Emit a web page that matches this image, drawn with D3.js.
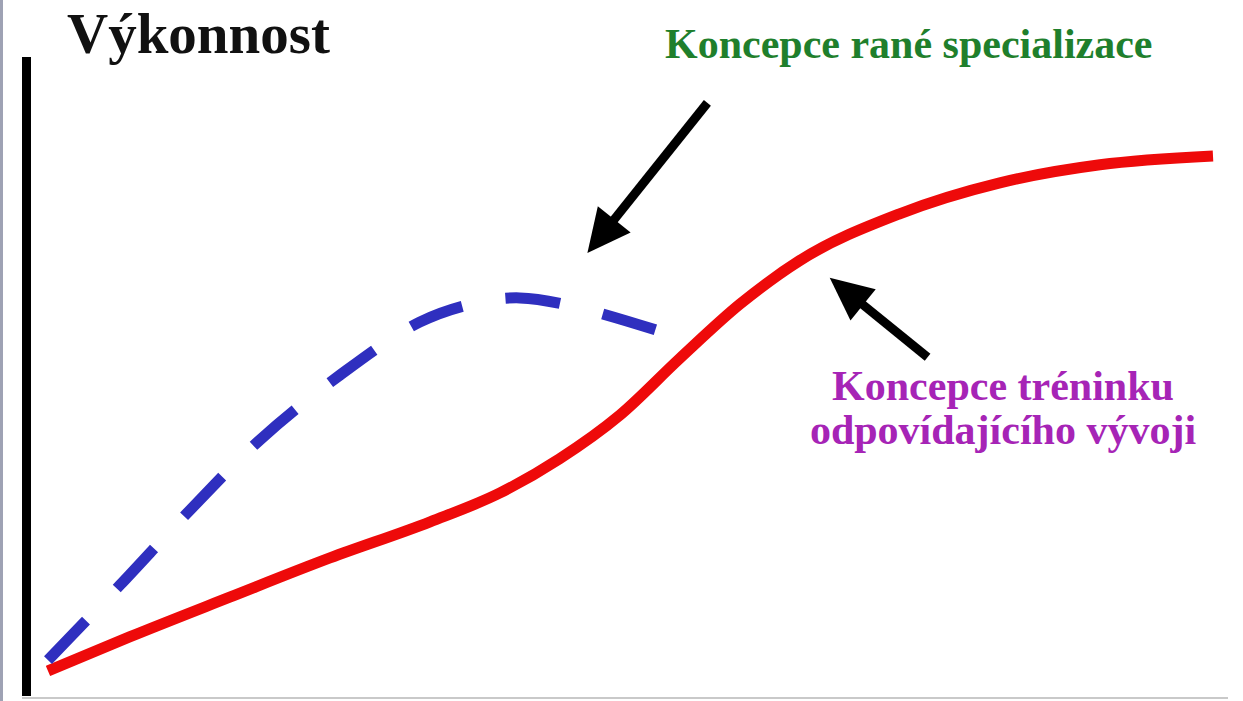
<!DOCTYPE html>
<html lang="cs">
  <head>
    <meta charset="UTF-8" />
    <script src="https://d3js.org/d3.v7.min.js"></script>
    <title>Výkonnost – koncepce tréninku</title>
    <style type="text/css">
      html, body { margin: 0; padding: 0; background: #fff; }
      svg { display: block; }
    </style>
  </head>
  <body>
    <svg width="1243" height="701"></svg>
  </body>
  <script type="text/javascript">
    // data (x = vek / cas 0-100, y = vykonnost 0-100)
    const redX = [0, 7.0, 15.6, 24.2, 32.8, 38.8, 43.9, 49.1, 54.2, 59.4, 64.5, 73.1, 81.7, 90.3, 100];
    const redY = [0.2, 6.8, 14.5, 22.1, 29.1, 34.7, 41.3, 49.8, 60.7, 71.3, 79.7, 88.8, 94.8, 98.3, 100];
    const blueX = [0, 6.2, 12.2, 18.2, 25.1, 31.9, 36.7, 40.5, 45.4, 53.0];
    const blueY = [2.3, 16.9, 31.4, 45.0, 57.6, 67.8, 71.5, 72.5, 70.7, 65.7];

    // arrows: [tailX, tailY, tipX, tipY] in data units
    const arrowEarly = [56.6, 110.3, 46.3, 81.2];
    const arrowDev = [75.5, 61.0, 67.1, 76.4];

    const titleText = 'Výkonnost';
    const earlyLabel = 'Koncepce rané specializace';
    const devLabel = ['Koncepce tréninku', 'odpovídajícího vývoji'];

    //---

    const svg = d3.select('svg');
    const width = +svg.attr('width');
    const height = +svg.attr('height');

    svg.append('rect').attr('width', width).attr('height', height).attr('fill', '#fff');

    // left grey edge + bottom line (frame of the original slide)
    svg.append('rect').attr('x', 0).attr('y', 0).attr('width', 3).attr('height', height).attr('fill', '#9ea2b4');
    svg.append('line')
      .attr('x1', 22).attr('x2', 1228)
      .attr('y1', 698).attr('y2', 698)
      .attr('stroke', '#c9c9c9').attr('stroke-width', 2);

    const xScale = d3.scaleLinear().domain([0, 100]).range([48, 1213]);
    const yScale = d3.scaleLinear().domain([0, 100]).range([672, 156]);

    // y axis (plain black bar)
    svg.append('line')
      .attr('x1', 26.5).attr('x2', 26.5)
      .attr('y1', 57).attr('y2', 696)
      .attr('stroke', '#000').attr('stroke-width', 9);

    const line = d3.line()
      .x((d) => xScale(d[0]))
      .y((d) => yScale(d[1]))
      .curve(d3.curveMonotoneX);

    const redData = redX.map((x, i) => [x, redY[i]]);
    const blueData = blueX.map((x, i) => [x, blueY[i]]);

    svg.append('path')
      .datum(redData)
      .attr('d', line)
      .attr('fill', 'none')
      .attr('stroke', '#ee0a0a')
      .attr('stroke-width', 11);

    svg.append('path')
      .datum(blueData)
      .attr('d', line.curve(d3.curveCatmullRom.alpha(0.5)))
      .attr('fill', 'none')
      .attr('stroke', '#2f2fbf')
      .attr('stroke-width', 11)
      .attr('stroke-dasharray', '55 44');

    // arrows
    function drawArrow(a, headLen, headW, shaftW) {
      const x1 = xScale(a[0]), y1 = yScale(a[1]);
      const x2 = xScale(a[2]), y2 = yScale(a[3]);
      const dx = x2 - x1, dy = y2 - y1;
      const len = Math.hypot(dx, dy);
      const ux = dx / len, uy = dy / len;
      const bx = x2 - ux * headLen, by = y2 - uy * headLen;
      svg.append('line')
        .attr('x1', x1).attr('y1', y1)
        .attr('x2', bx + ux * 2).attr('y2', by + uy * 2)
        .attr('stroke', '#000').attr('stroke-width', shaftW);
      const pts = [
        [x2, y2],
        [bx - uy * headW / 2, by + ux * headW / 2],
        [bx + uy * headW / 2, by - ux * headW / 2]
      ];
      svg.append('polygon')
        .attr('points', pts.map((p) => p.join(',')).join(' '))
        .attr('fill', '#000');
    }
    drawArrow(arrowEarly, 43, 42, 9);
    drawArrow(arrowDev, 43, 40, 9);

    // texts
    svg.append('text')
      .attr('x', 67).attr('y', 53)
      .attr('font-family', '"Liberation Serif", "Times New Roman", serif')
      .attr('font-weight', 'bold')
      .attr('font-size', '57px')
      .attr('fill', '#111')
      .text(titleText);

    svg.append('text')
      .attr('x', 665).attr('y', 58)
      .attr('font-family', '"Liberation Serif", "Times New Roman", serif')
      .attr('font-weight', 'bold')
      .attr('font-size', '42px')
      .attr('fill', '#1f7f2c')
      .text(earlyLabel);

    svg.append('g')
      .selectAll('text')
      .data(devLabel)
      .join('text')
      .attr('x', 1003)
      .attr('y', (d, i) => 400 + i * 44)
      .attr('text-anchor', 'middle')
      .attr('font-family', '"Liberation Serif", "Times New Roman", serif')
      .attr('font-weight', 'bold')
      .attr('font-size', '42px')
      .attr('fill', '#a624b6')
      .text((d) => d);
  </script>
</html>
